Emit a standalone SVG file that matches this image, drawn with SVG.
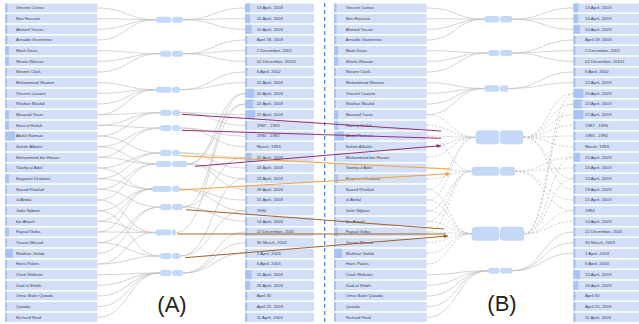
<svg xmlns="http://www.w3.org/2000/svg" width="639" height="324" viewBox="0 0 639 324">
<style>
.row{fill:#d3dff7}
.bar{fill:#a8c4f3}
.lbl{font-family:"Liberation Sans",Arial,sans-serif;font-size:4.3px;fill:#3d4454}
.pill{fill:#c4d9f8}
.c{fill:none;stroke:#c2c2c2;stroke-width:0.7}
.d{fill:none;stroke:#c2c2c2;stroke-width:0.7;stroke-dasharray:2.5 1.5}
.ar{fill:none;stroke-width:1}
.cap{font-family:"Liberation Sans",Arial,sans-serif;font-size:22px;fill:#222;text-anchor:middle}
</style>
<defs>
<marker id="mp" viewBox="0 0 10 8" refX="9" refY="4" markerWidth="5" markerHeight="4" orient="auto" markerUnits="userSpaceOnUse"><path d="M0 0L10 4L0 8z" fill="#99306f"/></marker>
<marker id="mo" viewBox="0 0 10 8" refX="9" refY="4" markerWidth="5" markerHeight="4" orient="auto" markerUnits="userSpaceOnUse"><path d="M0 0L10 4L0 8z" fill="#f5a23a"/></marker>
<marker id="mb" viewBox="0 0 10 8" refX="9" refY="4" markerWidth="5" markerHeight="4" orient="auto" markerUnits="userSpaceOnUse"><path d="M0 0L10 4L0 8z" fill="#a4622b"/></marker>
</defs>
<rect width="639" height="324" fill="#fff"/>

<g id="connectors">
<!-- A left -->
<path class="c" d="M97.5 8C127 8 127 19.7 156 19.7M97.5 18.67C127 18.67 127 19.7 156 19.7M97.5 29.33C127 29.33 127 19.7 156 19.7M97.5 40C127 40 127 19.7 156 19.7"/>
<path class="c" d="M97.5 50.67C129 50.67 129 53.7 160 53.7M97.5 61.33C129 61.33 129 53.7 160 53.7M97.5 72C129 72 129 53.7 160 53.7"/>
<path class="c" d="M97.5 82.67C127 82.67 127 89.7 156 89.7M97.5 93.33C127 93.33 127 89.7 156 89.7M97.5 104C127 104 127 89.7 156 89.7M97.5 114.67C127 114.67 127 89.7 156 89.7"/>
<path class="c" d="M97.5 114.67C129 114.67 129 112.7 160 112.7M97.5 125.33C129 125.33 129 112.7 160 112.7M97.5 136C129 136 129 112.7 160 112.7"/>
<path class="c" d="M97.5 125.33C129 125.33 129 128 160 128M97.5 146.67C129 146.67 129 128 160 128M97.5 157.33C129 157.33 129 128 160 128"/>
<path class="c" d="M97.5 136C129 136 129 153 160 153M97.5 168C129 168 129 153 160 153M97.5 178.67C129 178.67 129 153 160 153"/>
<path class="c" d="M97.5 146.67C127 146.67 127 164 156 164M97.5 157.33C127 157.33 127 164 156 164M97.5 189.33C127 189.33 127 164 156 164M97.5 200C127 200 127 164 156 164"/>
<path class="c" d="M97.5 168C125 168 125 189 152 189M97.5 178.67C125 178.67 125 189 152 189M97.5 210.67C125 210.67 125 189 152 189M97.5 221.33C125 221.33 125 189 152 189M97.5 232C125 232 125 189 152 189"/>
<path class="c" d="M97.5 189.33C129 189.33 129 207 160 207M97.5 242.67C129 242.67 129 207 160 207M97.5 253.33C129 253.33 129 207 160 207"/>
<path class="c" d="M97.5 200C126 200 126 232.5 155 232.5M97.5 221.33C126 221.33 126 232.5 155 232.5M97.5 232C126 232 126 232.5 155 232.5M97.5 264C126 264 126 232.5 155 232.5"/>
<path class="c" d="M97.5 210.67C129 210.67 129 256 160 256M97.5 242.67C129 242.67 129 256 160 256M97.5 264C129 264 129 256 160 256"/>
<path class="c" d="M97.5 274.67C129 274.67 129 273 160 273M97.5 285.33C129 285.33 129 273 160 273M97.5 296C129 296 129 273 160 273M97.5 306.67C129 306.67 129 273 160 273M97.5 317.33C129 317.33 129 273 160 273"/>
<!-- A right -->
<path class="c" d="M183 19.7C214 19.7 214 8 245 8M183 19.7C214 19.7 214 18.67 245 18.67M183 19.7C214 19.7 214 29.33 245 29.33"/>
<path class="c" d="M183 53.7C214 53.7 214 40 245 40M183 53.7C214 53.7 214 50.67 245 50.67M183 53.7C214 53.7 214 61.33 245 61.33"/>
<path class="c" d="M180 89.7C212.5 89.7 212.5 72 245 72M180 89.7C212.5 89.7 212.5 82.67 245 82.67"/>
<path class="c" d="M180 112.7C212.5 112.7 212.5 114.67 245 114.67M180 112.7C212.5 112.7 212.5 125.33 245 125.33"/>
<path class="c" d="M180 128C212.5 128 212.5 136 245 136M180 128C212.5 128 212.5 146.67 245 146.67"/>
<path class="c" d="M180 153C212.5 153 212.5 157.33 245 157.33M180 153C212.5 153 212.5 168 245 168"/>
<path class="c" d="M187 164C216 164 216 93.33 245 93.33M187 164C216 164 216 104 245 104M187 164C216 164 216 178.67 245 178.67M187 164C216 164 216 189.33 245 189.33"/>
<path class="c" d="M180 189C212.5 189 212.5 200 245 200M180 189C212.5 189 212.5 210.67 245 210.67"/>
<path class="c" d="M183 207C214 207 214 93.33 245 93.33M183 207C214 207 214 157.33 245 157.33M183 207C214 207 214 221.33 245 221.33"/>
<path class="c" d="M176 232.5C210.5 232.5 210.5 104 245 104"/>
<path class="c" d="M180 256C212.5 256 212.5 178.67 245 178.67M180 256C212.5 256 212.5 210.67 245 210.67"/>
<path class="c" d="M183 273C214 273 214 232 245 232M183 273C214 273 214 242.67 245 242.67M183 273C214 273 214 253.33 245 253.33"/>
<!-- B left -->
<path class="c" d="M427 8C455.7 8 455.7 19.2 484.3 19.2M427 18.67C455.7 18.67 455.7 19.2 484.3 19.2M427 29.33C455.7 29.33 455.7 19.2 484.3 19.2M427 40C455.7 40 455.7 19.2 484.3 19.2"/>
<path class="c" d="M427 50.67C457.7 50.67 457.7 53 488.3 53M427 61.33C457.7 61.33 457.7 53 488.3 53M427 72C457.7 72 457.7 53 488.3 53"/>
<path class="c" d="M427 82.67C455.7 82.67 455.7 88.5 484.3 88.5M427 93.33C455.7 93.33 455.7 88.5 484.3 88.5M427 104C455.7 104 455.7 88.5 484.3 88.5M427 114.67C455.7 114.67 455.7 88.5 484.3 88.5"/>
<path class="c" d="M427 274.67C457.7 274.67 457.7 270.7 488.3 270.7M427 285.33C457.7 285.33 457.7 270.7 488.3 270.7M427 296C457.7 296 457.7 270.7 488.3 270.7M427 306.67C457.7 306.67 457.7 270.7 488.3 270.7M427 317.33C457.7 317.33 457.7 270.7 488.3 270.7"/>
<path class="d" d="M427 114.67C451.3 114.67 451.3 137.3 475.7 137.3M427 125.33C451.3 125.33 451.3 137.3 475.7 137.3M427 136C451.3 136 451.3 137.3 475.7 137.3M427 146.67C451.3 146.67 451.3 137.3 475.7 137.3M427 157.33C451.3 157.33 451.3 137.3 475.7 137.3M427 189.33C451.3 189.33 451.3 137.3 475.7 137.3M427 200C451.3 200 451.3 137.3 475.7 137.3"/>
<path class="d" d="M427 136C449.3 136 449.3 171.2 471.7 171.2M427 168C449.3 168 449.3 171.2 471.7 171.2M427 178.67C449.3 178.67 449.3 171.2 471.7 171.2M427 210.67C449.3 210.67 449.3 171.2 471.7 171.2M427 221.33C449.3 221.33 449.3 171.2 471.7 171.2M427 232C449.3 232 449.3 171.2 471.7 171.2"/>
<path class="d" d="M427 189.33C449.3 189.33 449.3 233.7 471.7 233.7M427 200C449.3 200 449.3 233.7 471.7 233.7M427 210.67C449.3 210.67 449.3 233.7 471.7 233.7M427 221.33C449.3 221.33 449.3 233.7 471.7 233.7M427 232C449.3 232 449.3 233.7 471.7 233.7M427 242.67C449.3 242.67 449.3 233.7 471.7 233.7M427 253.33C449.3 253.33 449.3 233.7 471.7 233.7M427 264C449.3 264 449.3 233.7 471.7 233.7"/>
<!-- B right -->
<path class="c" d="M512.3 19.2C542.8 19.2 542.8 8 573.3 8M512.3 19.2C542.8 19.2 542.8 18.67 573.3 18.67M512.3 19.2C542.8 19.2 542.8 29.33 573.3 29.33"/>
<path class="c" d="M512.3 53C542.8 53 542.8 40 573.3 40M512.3 53C542.8 53 542.8 50.67 573.3 50.67M512.3 53C542.8 53 542.8 61.33 573.3 61.33"/>
<path class="c" d="M508.3 88.5C540.8 88.5 540.8 72 573.3 72M508.3 88.5C540.8 88.5 540.8 82.67 573.3 82.67"/>
<path class="c" d="M512.3 270.7C542.8 270.7 542.8 232 573.3 232M512.3 270.7C542.8 270.7 542.8 242.67 573.3 242.67M512.3 270.7C542.8 270.7 542.8 253.33 573.3 253.33"/>
<path class="d" d="M523.3 137.3C548.3 137.3 548.3 93.33 573.3 93.33M523.3 137.3C548.3 137.3 548.3 104 573.3 104M523.3 137.3C548.3 137.3 548.3 114.67 573.3 114.67M523.3 137.3C548.3 137.3 548.3 125.33 573.3 125.33M523.3 137.3C548.3 137.3 548.3 136 573.3 136M523.3 137.3C548.3 137.3 548.3 146.67 573.3 146.67M523.3 137.3C548.3 137.3 548.3 178.67 573.3 178.67M523.3 137.3C548.3 137.3 548.3 189.33 573.3 189.33"/>
<path class="d" d="M515 171.2C544.2 171.2 544.2 157.33 573.3 157.33M515 171.2C544.2 171.2 544.2 168 573.3 168M515 171.2C544.2 171.2 544.2 200 573.3 200M515 171.2C544.2 171.2 544.2 210.67 573.3 210.67"/>
<path class="d" d="M524 233.7C548.7 233.7 548.7 93.33 573.3 93.33M524 233.7C548.7 233.7 548.7 104 573.3 104M524 233.7C548.7 233.7 548.7 157.33 573.3 157.33M524 233.7C548.7 233.7 548.7 178.67 573.3 178.67M524 233.7C548.7 233.7 548.7 210.67 573.3 210.67M524 233.7C548.7 233.7 548.7 221.33 573.3 221.33"/>
</g>

<line id="divider" x1="324.7" y1="3" x2="324.7" y2="324" stroke="#4a78ee" stroke-width="1.2" stroke-dasharray="4 3"/>

<!-- A names -->
<g id="a-name-0" transform="translate(5,3.4)"><rect class="row" width="92.5" height="9.2" rx="1"/><rect class="bar" width="2.5" height="9.2" rx="0.8"/><text class="lbl" x="11" y="6.1">Vincent Cortez</text></g>
<g id="a-name-1" transform="translate(5,14.07)"><rect class="row" width="92.5" height="9.2" rx="1"/><rect class="bar" width="2.5" height="9.2" rx="0.8"/><text class="lbl" x="11" y="6.1">Ben Hassine</text></g>
<g id="a-name-2" transform="translate(5,24.73)"><rect class="row" width="92.5" height="9.2" rx="1"/><rect class="bar" width="2.5" height="9.2" rx="0.8"/><text class="lbl" x="11" y="6.1">Ahmed Yassin</text></g>
<g id="a-name-3" transform="translate(5,35.4)"><rect class="row" width="92.5" height="9.2" rx="1"/><rect class="bar" width="2.5" height="9.2" rx="0.8"/><text class="lbl" x="11" y="6.1">Arnaldo Guetierrez</text></g>
<g id="a-name-4" transform="translate(5,46.07)"><rect class="row" width="92.5" height="9.2" rx="1"/><rect class="bar" width="4" height="9.2" rx="0.8"/><text class="lbl" x="11" y="6.1">Mark Davis</text></g>
<g id="a-name-5" transform="translate(5,56.73)"><rect class="row" width="92.5" height="9.2" rx="1"/><rect class="bar" width="4" height="9.2" rx="0.8"/><text class="lbl" x="11" y="6.1">Shiela Watson</text></g>
<g id="a-name-6" transform="translate(5,67.4)"><rect class="row" width="92.5" height="9.2" rx="1"/><rect class="bar" width="2" height="9.2" rx="0.8"/><text class="lbl" x="11" y="6.1">Steven Clark</text></g>
<g id="a-name-7" transform="translate(5,78.07)"><rect class="row" width="92.5" height="9.2" rx="1"/><rect class="bar" width="2" height="9.2" rx="0.8"/><text class="lbl" x="11" y="6.1">Muhammad Shamzi</text></g>
<g id="a-name-8" transform="translate(5,88.73)"><rect class="row" width="92.5" height="9.2" rx="1"/><rect class="bar" width="2" height="9.2" rx="0.8"/><text class="lbl" x="11" y="6.1">Vincent Lozario</text></g>
<g id="a-name-9" transform="translate(5,99.4)"><rect class="row" width="92.5" height="9.2" rx="1"/><rect class="bar" width="2" height="9.2" rx="0.8"/><text class="lbl" x="11" y="6.1">Khalfan Maulid</text></g>
<g id="a-name-10" transform="translate(5,110.07)"><rect class="row" width="92.5" height="9.2" rx="1"/><rect class="bar" width="4" height="9.2" rx="0.8"/><text class="lbl" x="11" y="6.1">Masood Yaser</text></g>
<g id="a-name-11" transform="translate(5,120.73)"><rect class="row" width="92.5" height="9.2" rx="1"/><rect class="bar" width="4" height="9.2" rx="0.8"/><text class="lbl" x="11" y="6.1">Hani al Hallak</text></g>
<g id="a-name-12" transform="translate(5,131.4)"><rect class="row" width="92.5" height="9.2" rx="1"/><rect class="bar" width="10" height="9.2" rx="0.8"/><text class="lbl" x="11" y="6.1">Abdul Ramazi</text></g>
<g id="a-name-13" transform="translate(5,142.07)"><rect class="row" width="92.5" height="9.2" rx="1"/><rect class="bar" width="2" height="9.2" rx="0.8"/><text class="lbl" x="11" y="6.1">Sahim Albakri</text></g>
<g id="a-name-14" transform="translate(5,152.73)"><rect class="row" width="92.5" height="9.2" rx="1"/><rect class="bar" width="2" height="9.2" rx="0.8"/><text class="lbl" x="11" y="6.1">Mohammed bin Harazi</text></g>
<g id="a-name-15" transform="translate(5,163.4)"><rect class="row" width="92.5" height="9.2" rx="1"/><rect class="bar" width="2" height="9.2" rx="0.8"/><text class="lbl" x="11" y="6.1">Tawfiq al Adel</text></g>
<g id="a-name-16" transform="translate(5,174.07)"><rect class="row" width="92.5" height="9.2" rx="1"/><rect class="bar" width="4" height="9.2" rx="0.8"/><text class="lbl" x="11" y="6.1">Bagwant Dhaliwal</text></g>
<g id="a-name-17" transform="translate(5,184.73)"><rect class="row" width="92.5" height="9.2" rx="1"/><rect class="bar" width="2" height="9.2" rx="0.8"/><text class="lbl" x="11" y="6.1">Saeed Khallad</text></g>
<g id="a-name-18" transform="translate(5,195.4)"><rect class="row" width="92.5" height="9.2" rx="1"/><rect class="bar" width="2" height="9.2" rx="0.8"/><text class="lbl" x="11" y="6.1">al Ahdal</text></g>
<g id="a-name-19" transform="translate(5,206.07)"><rect class="row" width="92.5" height="9.2" rx="1"/><rect class="bar" width="2" height="9.2" rx="0.8"/><text class="lbl" x="11" y="6.1">Jotte Nijboer</text></g>
<g id="a-name-20" transform="translate(5,216.73)"><rect class="row" width="92.5" height="9.2" rx="1"/><rect class="bar" width="2" height="9.2" rx="0.8"/><text class="lbl" x="11" y="6.1">bin Attash</text></g>
<g id="a-name-21" transform="translate(5,227.4)"><rect class="row" width="92.5" height="9.2" rx="1"/><rect class="bar" width="4" height="9.2" rx="0.8"/><text class="lbl" x="11" y="6.1">Faysal Goba</text></g>
<g id="a-name-22" transform="translate(5,238.07)"><rect class="row" width="92.5" height="9.2" rx="1"/><rect class="bar" width="2" height="9.2" rx="0.8"/><text class="lbl" x="11" y="6.1">Yasein Mosed</text></g>
<g id="a-name-23" transform="translate(5,248.73)"><rect class="row" width="92.5" height="9.2" rx="1"/><rect class="bar" width="8" height="9.2" rx="0.8"/><text class="lbl" x="11" y="6.1">Mukhtar Galab</text></g>
<g id="a-name-24" transform="translate(5,259.4)"><rect class="row" width="92.5" height="9.2" rx="1"/><rect class="bar" width="2" height="9.2" rx="0.8"/><text class="lbl" x="11" y="6.1">Hans Pakes</text></g>
<g id="a-name-25" transform="translate(5,270.07)"><rect class="row" width="92.5" height="9.2" rx="1"/><rect class="bar" width="2" height="9.2" rx="0.8"/><text class="lbl" x="11" y="6.1">Clark Webster</text></g>
<g id="a-name-26" transform="translate(5,280.73)"><rect class="row" width="92.5" height="9.2" rx="1"/><rect class="bar" width="2" height="9.2" rx="0.8"/><text class="lbl" x="11" y="6.1">Zaid al Shibh</text></g>
<g id="a-name-27" transform="translate(5,291.4)"><rect class="row" width="92.5" height="9.2" rx="1"/><rect class="bar" width="2" height="9.2" rx="0.8"/><text class="lbl" x="11" y="6.1">Omar Bakri Qatada</text></g>
<g id="a-name-28" transform="translate(5,302.07)"><rect class="row" width="92.5" height="9.2" rx="1"/><rect class="bar" width="2" height="9.2" rx="0.8"/><text class="lbl" x="11" y="6.1">Qatada</text></g>
<g id="a-name-29" transform="translate(5,312.73)"><rect class="row" width="92.5" height="9.2" rx="1"/><rect class="bar" width="2" height="9.2" rx="0.8"/><text class="lbl" x="11" y="6.1">Richard Reid</text></g>

<!-- A dates -->
<g id="a-date-0" transform="translate(245,3.4)"><rect class="row" width="69" height="9.2" rx="1"/><rect class="bar" width="5" height="9.2" rx="0.8"/><text class="lbl" x="11.7" y="6.1">13 April, 2003</text></g>
<g id="a-date-1" transform="translate(245,14.07)"><rect class="row" width="69" height="9.2" rx="1"/><rect class="bar" width="5" height="9.2" rx="0.8"/><text class="lbl" x="11.7" y="6.1">16 April, 2003</text></g>
<g id="a-date-2" transform="translate(245,24.73)"><rect class="row" width="69" height="9.2" rx="1"/><rect class="bar" width="6.7" height="9.2" rx="0.8"/><text class="lbl" x="11.7" y="6.1">10 April, 2003</text></g>
<g id="a-date-3" transform="translate(245,35.4)"><rect class="row" width="69" height="9.2" rx="1"/><rect class="bar" width="2.3" height="9.2" rx="0.8"/><text class="lbl" x="11.7" y="6.1">April 18, 2003</text></g>
<g id="a-date-4" transform="translate(245,46.07)"><rect class="row" width="69" height="9.2" rx="1"/><rect class="bar" width="2.3" height="9.2" rx="0.8"/><text class="lbl" x="11.7" y="6.1">2 December, 2001</text></g>
<g id="a-date-5" transform="translate(245,56.73)"><rect class="row" width="69" height="9.2" rx="1"/><rect class="bar" width="2.3" height="9.2" rx="0.8"/><text class="lbl" x="11.7" y="6.1">02 December, 20011</text></g>
<g id="a-date-6" transform="translate(245,67.4)"><rect class="row" width="69" height="9.2" rx="1"/><rect class="bar" width="2.3" height="9.2" rx="0.8"/><text class="lbl" x="11.7" y="6.1">6 April, 2002</text></g>
<g id="a-date-7" transform="translate(245,78.07)"><rect class="row" width="69" height="9.2" rx="1"/><rect class="bar" width="2.3" height="9.2" rx="0.8"/><text class="lbl" x="11.7" y="6.1">12 April, 2003</text></g>
<g id="a-date-8" transform="translate(245,88.73)"><rect class="row" width="69" height="9.2" rx="1"/><rect class="bar" width="9.3" height="9.2" rx="0.8"/><text class="lbl" x="11.7" y="6.1">20 April, 2003</text></g>
<g id="a-date-9" transform="translate(245,99.4)"><rect class="row" width="69" height="9.2" rx="1"/><rect class="bar" width="8.3" height="9.2" rx="0.8"/><text class="lbl" x="11.7" y="6.1">22 April, 2003</text></g>
<g id="a-date-10" transform="translate(245,110.07)"><rect class="row" width="69" height="9.2" rx="1"/><rect class="bar" width="10" height="9.2" rx="0.8"/><text class="lbl" x="11.7" y="6.1">27 April, 2003</text></g>
<g id="a-date-11" transform="translate(245,120.73)"><rect class="row" width="69" height="9.2" rx="1"/><rect class="bar" width="2.3" height="9.2" rx="0.8"/><text class="lbl" x="11.7" y="6.1">1987 - 1993</text></g>
<g id="a-date-12" transform="translate(245,131.4)"><rect class="row" width="69" height="9.2" rx="1"/><rect class="bar" width="2.3" height="9.2" rx="0.8"/><text class="lbl" x="11.7" y="6.1">1990 - 1992</text></g>
<g id="a-date-13" transform="translate(245,142.07)"><rect class="row" width="69" height="9.2" rx="1"/><rect class="bar" width="2.3" height="9.2" rx="0.8"/><text class="lbl" x="11.7" y="6.1">March, 1993</text></g>
<g id="a-date-14" transform="translate(245,152.73)"><rect class="row" width="69" height="9.2" rx="1"/><rect class="bar" width="6.7" height="9.2" rx="0.8"/><text class="lbl" x="11.7" y="6.1">25 April, 2003</text></g>
<g id="a-date-15" transform="translate(245,163.4)"><rect class="row" width="69" height="9.2" rx="1"/><rect class="bar" width="2.3" height="9.2" rx="0.8"/><text class="lbl" x="11.7" y="6.1">24 April, 2003</text></g>
<g id="a-date-16" transform="translate(245,174.07)"><rect class="row" width="69" height="9.2" rx="1"/><rect class="bar" width="2.3" height="9.2" rx="0.8"/><text class="lbl" x="11.7" y="6.1">23 April, 2003</text></g>
<g id="a-date-17" transform="translate(245,184.73)"><rect class="row" width="69" height="9.2" rx="1"/><rect class="bar" width="2.3" height="9.2" rx="0.8"/><text class="lbl" x="11.7" y="6.1">29 April, 2003</text></g>
<g id="a-date-18" transform="translate(245,195.4)"><rect class="row" width="69" height="9.2" rx="1"/><rect class="bar" width="2.3" height="9.2" rx="0.8"/><text class="lbl" x="11.7" y="6.1">21 April, 2003</text></g>
<g id="a-date-19" transform="translate(245,206.07)"><rect class="row" width="69" height="9.2" rx="1"/><rect class="bar" width="2.3" height="9.2" rx="0.8"/><text class="lbl" x="11.7" y="6.1">1994</text></g>
<g id="a-date-20" transform="translate(245,216.73)"><rect class="row" width="69" height="9.2" rx="1"/><rect class="bar" width="2.3" height="9.2" rx="0.8"/><text class="lbl" x="11.7" y="6.1">14 April, 2003</text></g>
<g id="a-date-21" transform="translate(245,227.4)"><rect class="row" width="69" height="9.2" rx="1"/><rect class="bar" width="2.3" height="9.2" rx="0.8"/><text class="lbl" x="11.7" y="6.1">22 December, 2001</text></g>
<g id="a-date-22" transform="translate(245,238.07)"><rect class="row" width="69" height="9.2" rx="1"/><rect class="bar" width="2.3" height="9.2" rx="0.8"/><text class="lbl" x="11.7" y="6.1">30 March, 2003</text></g>
<g id="a-date-23" transform="translate(245,248.73)"><rect class="row" width="69" height="9.2" rx="1"/><rect class="bar" width="2.3" height="9.2" rx="0.8"/><text class="lbl" x="11.7" y="6.1">1 April, 2003</text></g>
<g id="a-date-24" transform="translate(245,259.4)"><rect class="row" width="69" height="9.2" rx="1"/><rect class="bar" width="2.3" height="9.2" rx="0.8"/><text class="lbl" x="11.7" y="6.1">6 April, 2003</text></g>
<g id="a-date-25" transform="translate(245,270.07)"><rect class="row" width="69" height="9.2" rx="1"/><rect class="bar" width="6.7" height="9.2" rx="0.8"/><text class="lbl" x="11.7" y="6.1">15 April, 2003</text></g>
<g id="a-date-26" transform="translate(245,280.73)"><rect class="row" width="69" height="9.2" rx="1"/><rect class="bar" width="5" height="9.2" rx="0.8"/><text class="lbl" x="11.7" y="6.1">26 April, 2003</text></g>
<g id="a-date-27" transform="translate(245,291.4)"><rect class="row" width="69" height="9.2" rx="1"/><rect class="bar" width="2.3" height="9.2" rx="0.8"/><text class="lbl" x="11.7" y="6.1">April 30</text></g>
<g id="a-date-28" transform="translate(245,302.07)"><rect class="row" width="69" height="9.2" rx="1"/><rect class="bar" width="2.3" height="9.2" rx="0.8"/><text class="lbl" x="11.7" y="6.1">April 25, 2003</text></g>
<g id="a-date-29" transform="translate(245,312.73)"><rect class="row" width="69" height="9.2" rx="1"/><rect class="bar" width="2.3" height="9.2" rx="0.8"/><text class="lbl" x="11.7" y="6.1">11 April, 2003</text></g>

<!-- A pills -->
<g id="a-pill-1"><rect class="pill" x="156" y="16.7" width="15.3" height="6" rx="2.5"/><rect class="pill" x="172" y="16.7" width="11" height="6" rx="2.5"/></g>
<g id="a-pill-2"><rect class="pill" x="160" y="50.7" width="11.3" height="6" rx="2.5"/><rect class="pill" x="172" y="50.7" width="11" height="6" rx="2.5"/></g>
<g id="a-pill-3"><rect class="pill" x="156" y="86.7" width="15.3" height="6" rx="2.5"/><rect class="pill" x="172" y="86.7" width="8" height="6" rx="2.5"/></g>
<g id="a-pill-4"><rect class="pill" x="160" y="109.7" width="11.3" height="6" rx="2.5"/><rect class="pill" x="172" y="109.7" width="8" height="6" rx="2.5"/></g>
<g id="a-pill-5"><rect class="pill" x="160" y="125" width="11.3" height="6" rx="2.5"/><rect class="pill" x="172" y="125" width="8" height="6" rx="2.5"/></g>
<g id="a-pill-6"><rect class="pill" x="160" y="150" width="11.3" height="6" rx="2.5"/><rect class="pill" x="172" y="150" width="8" height="6" rx="2.5"/></g>
<g id="a-pill-7"><rect class="pill" x="156" y="161" width="15.3" height="6" rx="2.5"/><rect class="pill" x="172" y="161" width="15" height="6" rx="2.5"/></g>
<g id="a-pill-8"><rect class="pill" x="152" y="186" width="19.3" height="6" rx="2.5"/><rect class="pill" x="172" y="186" width="8" height="6" rx="2.5"/></g>
<g id="a-pill-9"><rect class="pill" x="160" y="204" width="11.3" height="6" rx="2.5"/><rect class="pill" x="172" y="204" width="11" height="6" rx="2.5"/></g>
<g id="a-pill-10"><rect class="pill" x="155" y="229.5" width="16.3" height="6" rx="2.5"/><rect class="pill" x="172" y="229.5" width="4" height="6" rx="1.8"/></g>
<g id="a-pill-11"><rect class="pill" x="160" y="253" width="11.3" height="6" rx="2.5"/><rect class="pill" x="172" y="253" width="8" height="6" rx="2.5"/></g>
<g id="a-pill-12"><rect class="pill" x="160" y="270" width="11.3" height="6" rx="2.5"/><rect class="pill" x="172" y="270" width="11" height="6" rx="2.5"/></g>

<!-- B names -->
<g id="b-name-0" transform="translate(334,3.4)"><rect class="row" width="92.7" height="9.2" rx="1"/><rect class="bar" width="2.5" height="9.2" rx="0.8"/><text class="lbl" x="11.7" y="6.1">Vincent Cortez</text></g>
<g id="b-name-1" transform="translate(334,14.07)"><rect class="row" width="92.7" height="9.2" rx="1"/><rect class="bar" width="2.5" height="9.2" rx="0.8"/><text class="lbl" x="11.7" y="6.1">Ben Hassine</text></g>
<g id="b-name-2" transform="translate(334,24.73)"><rect class="row" width="92.7" height="9.2" rx="1"/><rect class="bar" width="2.5" height="9.2" rx="0.8"/><text class="lbl" x="11.7" y="6.1">Ahmed Yassin</text></g>
<g id="b-name-3" transform="translate(334,35.4)"><rect class="row" width="92.7" height="9.2" rx="1"/><rect class="bar" width="2.5" height="9.2" rx="0.8"/><text class="lbl" x="11.7" y="6.1">Arnaldo Guetierrez</text></g>
<g id="b-name-4" transform="translate(334,46.07)"><rect class="row" width="92.7" height="9.2" rx="1"/><rect class="bar" width="4" height="9.2" rx="0.8"/><text class="lbl" x="11.7" y="6.1">Mark Davis</text></g>
<g id="b-name-5" transform="translate(334,56.73)"><rect class="row" width="92.7" height="9.2" rx="1"/><rect class="bar" width="4" height="9.2" rx="0.8"/><text class="lbl" x="11.7" y="6.1">Shiela Watson</text></g>
<g id="b-name-6" transform="translate(334,67.4)"><rect class="row" width="92.7" height="9.2" rx="1"/><rect class="bar" width="2" height="9.2" rx="0.8"/><text class="lbl" x="11.7" y="6.1">Steven Clark</text></g>
<g id="b-name-7" transform="translate(334,78.07)"><rect class="row" width="92.7" height="9.2" rx="1"/><rect class="bar" width="2" height="9.2" rx="0.8"/><text class="lbl" x="11.7" y="6.1">Muhammad Shamzi</text></g>
<g id="b-name-8" transform="translate(334,88.73)"><rect class="row" width="92.7" height="9.2" rx="1"/><rect class="bar" width="2" height="9.2" rx="0.8"/><text class="lbl" x="11.7" y="6.1">Vincent Lozario</text></g>
<g id="b-name-9" transform="translate(334,99.4)"><rect class="row" width="92.7" height="9.2" rx="1"/><rect class="bar" width="2" height="9.2" rx="0.8"/><text class="lbl" x="11.7" y="6.1">Khalfan Maulid</text></g>
<g id="b-name-10" transform="translate(334,110.07)"><rect class="row" width="92.7" height="9.2" rx="1"/><rect class="bar" width="4" height="9.2" rx="0.8"/><text class="lbl" x="11.7" y="6.1">Masood Yaser</text></g>
<g id="b-name-11" transform="translate(334,120.73)"><rect class="row" width="92.7" height="9.2" rx="1"/><rect class="bar" width="4" height="9.2" rx="0.8"/><text class="lbl" x="11.7" y="6.1">Hani al Hallak</text></g>
<g id="b-name-12" transform="translate(334,131.4)"><rect class="row" width="92.7" height="9.2" rx="1"/><rect class="bar" width="10" height="9.2" rx="0.8"/><text class="lbl" x="11.7" y="6.1">Abdul Ramazi</text></g>
<g id="b-name-13" transform="translate(334,142.07)"><rect class="row" width="92.7" height="9.2" rx="1"/><rect class="bar" width="2" height="9.2" rx="0.8"/><text class="lbl" x="11.7" y="6.1">Sahim Albakri</text></g>
<g id="b-name-14" transform="translate(334,152.73)"><rect class="row" width="92.7" height="9.2" rx="1"/><rect class="bar" width="2" height="9.2" rx="0.8"/><text class="lbl" x="11.7" y="6.1">Muhammed bin Harazi</text></g>
<g id="b-name-15" transform="translate(334,163.4)"><rect class="row" width="92.7" height="9.2" rx="1"/><rect class="bar" width="2" height="9.2" rx="0.8"/><text class="lbl" x="11.7" y="6.1">Tawfiq al Adel</text></g>
<g id="b-name-16" transform="translate(334,174.07)"><rect class="row" width="92.7" height="9.2" rx="1"/><rect class="bar" width="4" height="9.2" rx="0.8"/><text class="lbl" x="11.7" y="6.1">Bagwant Dhaliwal</text></g>
<g id="b-name-17" transform="translate(334,184.73)"><rect class="row" width="92.7" height="9.2" rx="1"/><rect class="bar" width="2" height="9.2" rx="0.8"/><text class="lbl" x="11.7" y="6.1">Saeed Khallad</text></g>
<g id="b-name-18" transform="translate(334,195.4)"><rect class="row" width="92.7" height="9.2" rx="1"/><rect class="bar" width="2" height="9.2" rx="0.8"/><text class="lbl" x="11.7" y="6.1">al Ahdal</text></g>
<g id="b-name-19" transform="translate(334,206.07)"><rect class="row" width="92.7" height="9.2" rx="1"/><rect class="bar" width="2" height="9.2" rx="0.8"/><text class="lbl" x="11.7" y="6.1">Jotte Nijboer</text></g>
<g id="b-name-20" transform="translate(334,216.73)"><rect class="row" width="92.7" height="9.2" rx="1"/><rect class="bar" width="2" height="9.2" rx="0.8"/><text class="lbl" x="11.7" y="6.1">bin Attash</text></g>
<g id="b-name-21" transform="translate(334,227.4)"><rect class="row" width="92.7" height="9.2" rx="1"/><rect class="bar" width="4" height="9.2" rx="0.8"/><text class="lbl" x="11.7" y="6.1">Faysal Goba</text></g>
<g id="b-name-22" transform="translate(334,238.07)"><rect class="row" width="92.7" height="9.2" rx="1"/><rect class="bar" width="2" height="9.2" rx="0.8"/><text class="lbl" x="11.7" y="6.1">Yasein Mosed</text></g>
<g id="b-name-23" transform="translate(334,248.73)"><rect class="row" width="92.7" height="9.2" rx="1"/><rect class="bar" width="8" height="9.2" rx="0.8"/><text class="lbl" x="11.7" y="6.1">Mukhtar Galab</text></g>
<g id="b-name-24" transform="translate(334,259.4)"><rect class="row" width="92.7" height="9.2" rx="1"/><rect class="bar" width="2" height="9.2" rx="0.8"/><text class="lbl" x="11.7" y="6.1">Hans Pakes</text></g>
<g id="b-name-25" transform="translate(334,270.07)"><rect class="row" width="92.7" height="9.2" rx="1"/><rect class="bar" width="2" height="9.2" rx="0.8"/><text class="lbl" x="11.7" y="6.1">Clark Webster</text></g>
<g id="b-name-26" transform="translate(334,280.73)"><rect class="row" width="92.7" height="9.2" rx="1"/><rect class="bar" width="2" height="9.2" rx="0.8"/><text class="lbl" x="11.7" y="6.1">Zaid al Shibh</text></g>
<g id="b-name-27" transform="translate(334,291.4)"><rect class="row" width="92.7" height="9.2" rx="1"/><rect class="bar" width="2" height="9.2" rx="0.8"/><text class="lbl" x="11.7" y="6.1">Omar Bakri Qatada</text></g>
<g id="b-name-28" transform="translate(334,302.07)"><rect class="row" width="92.7" height="9.2" rx="1"/><rect class="bar" width="2" height="9.2" rx="0.8"/><text class="lbl" x="11.7" y="6.1">Qatada</text></g>
<g id="b-name-29" transform="translate(334,312.73)"><rect class="row" width="92.7" height="9.2" rx="1"/><rect class="bar" width="2" height="9.2" rx="0.8"/><text class="lbl" x="11.7" y="6.1">Richard Reid</text></g>

<!-- B dates -->
<g id="b-date-0" transform="translate(573.3,3.4)"><rect class="row" width="69" height="9.2" rx="1"/><rect class="bar" width="5" height="9.2" rx="0.8"/><text class="lbl" x="11.7" y="6.1">13 April, 2003</text></g>
<g id="b-date-1" transform="translate(573.3,14.07)"><rect class="row" width="69" height="9.2" rx="1"/><rect class="bar" width="5" height="9.2" rx="0.8"/><text class="lbl" x="11.7" y="6.1">16 April, 2003</text></g>
<g id="b-date-2" transform="translate(573.3,24.73)"><rect class="row" width="69" height="9.2" rx="1"/><rect class="bar" width="6.7" height="9.2" rx="0.8"/><text class="lbl" x="11.7" y="6.1">10 April, 2003</text></g>
<g id="b-date-3" transform="translate(573.3,35.4)"><rect class="row" width="69" height="9.2" rx="1"/><rect class="bar" width="2.3" height="9.2" rx="0.8"/><text class="lbl" x="11.7" y="6.1">April 18, 2003</text></g>
<g id="b-date-4" transform="translate(573.3,46.07)"><rect class="row" width="69" height="9.2" rx="1"/><rect class="bar" width="2.3" height="9.2" rx="0.8"/><text class="lbl" x="11.7" y="6.1">2 December, 2001</text></g>
<g id="b-date-5" transform="translate(573.3,56.73)"><rect class="row" width="69" height="9.2" rx="1"/><rect class="bar" width="2.3" height="9.2" rx="0.8"/><text class="lbl" x="11.7" y="6.1">02 December, 20011</text></g>
<g id="b-date-6" transform="translate(573.3,67.4)"><rect class="row" width="69" height="9.2" rx="1"/><rect class="bar" width="2.3" height="9.2" rx="0.8"/><text class="lbl" x="11.7" y="6.1">6 April, 2002</text></g>
<g id="b-date-7" transform="translate(573.3,78.07)"><rect class="row" width="69" height="9.2" rx="1"/><rect class="bar" width="2.3" height="9.2" rx="0.8"/><text class="lbl" x="11.7" y="6.1">12 April, 2003</text></g>
<g id="b-date-8" transform="translate(573.3,88.73)"><rect class="row" width="69" height="9.2" rx="1"/><rect class="bar" width="10" height="9.2" rx="0.8"/><text class="lbl" x="11.7" y="6.1">20 April, 2003</text></g>
<g id="b-date-9" transform="translate(573.3,99.4)"><rect class="row" width="69" height="9.2" rx="1"/><rect class="bar" width="8.3" height="9.2" rx="0.8"/><text class="lbl" x="11.7" y="6.1">22 April, 2003</text></g>
<g id="b-date-10" transform="translate(573.3,110.07)"><rect class="row" width="69" height="9.2" rx="1"/><rect class="bar" width="10" height="9.2" rx="0.8"/><text class="lbl" x="11.7" y="6.1">27 April, 2003</text></g>
<g id="b-date-11" transform="translate(573.3,120.73)"><rect class="row" width="69" height="9.2" rx="1"/><rect class="bar" width="2.3" height="9.2" rx="0.8"/><text class="lbl" x="11.7" y="6.1">1987 - 1993</text></g>
<g id="b-date-12" transform="translate(573.3,131.4)"><rect class="row" width="69" height="9.2" rx="1"/><rect class="bar" width="2.3" height="9.2" rx="0.8"/><text class="lbl" x="11.7" y="6.1">1990 - 1992</text></g>
<g id="b-date-13" transform="translate(573.3,142.07)"><rect class="row" width="69" height="9.2" rx="1"/><rect class="bar" width="2.3" height="9.2" rx="0.8"/><text class="lbl" x="11.7" y="6.1">March, 1993</text></g>
<g id="b-date-14" transform="translate(573.3,152.73)"><rect class="row" width="69" height="9.2" rx="1"/><rect class="bar" width="6.7" height="9.2" rx="0.8"/><text class="lbl" x="11.7" y="6.1">25 April, 2003</text></g>
<g id="b-date-15" transform="translate(573.3,163.4)"><rect class="row" width="69" height="9.2" rx="1"/><rect class="bar" width="2.3" height="9.2" rx="0.8"/><text class="lbl" x="11.7" y="6.1">24 April, 2003</text></g>
<g id="b-date-16" transform="translate(573.3,174.07)"><rect class="row" width="69" height="9.2" rx="1"/><rect class="bar" width="2.3" height="9.2" rx="0.8"/><text class="lbl" x="11.7" y="6.1">23 April, 2003</text></g>
<g id="b-date-17" transform="translate(573.3,184.73)"><rect class="row" width="69" height="9.2" rx="1"/><rect class="bar" width="2.3" height="9.2" rx="0.8"/><text class="lbl" x="11.7" y="6.1">29 April, 2003</text></g>
<g id="b-date-18" transform="translate(573.3,195.4)"><rect class="row" width="69" height="9.2" rx="1"/><rect class="bar" width="2.3" height="9.2" rx="0.8"/><text class="lbl" x="11.7" y="6.1">21 April, 2003</text></g>
<g id="b-date-19" transform="translate(573.3,206.07)"><rect class="row" width="69" height="9.2" rx="1"/><rect class="bar" width="2.3" height="9.2" rx="0.8"/><text class="lbl" x="11.7" y="6.1">1994</text></g>
<g id="b-date-20" transform="translate(573.3,216.73)"><rect class="row" width="69" height="9.2" rx="1"/><rect class="bar" width="2.3" height="9.2" rx="0.8"/><text class="lbl" x="11.7" y="6.1">14 April, 2003</text></g>
<g id="b-date-21" transform="translate(573.3,227.4)"><rect class="row" width="69" height="9.2" rx="1"/><rect class="bar" width="2.3" height="9.2" rx="0.8"/><text class="lbl" x="11.7" y="6.1">22 December, 2001</text></g>
<g id="b-date-22" transform="translate(573.3,238.07)"><rect class="row" width="69" height="9.2" rx="1"/><rect class="bar" width="2.3" height="9.2" rx="0.8"/><text class="lbl" x="11.7" y="6.1">30 March, 2003</text></g>
<g id="b-date-23" transform="translate(573.3,248.73)"><rect class="row" width="69" height="9.2" rx="1"/><rect class="bar" width="2.3" height="9.2" rx="0.8"/><text class="lbl" x="11.7" y="6.1">1 April, 2003</text></g>
<g id="b-date-24" transform="translate(573.3,259.4)"><rect class="row" width="69" height="9.2" rx="1"/><rect class="bar" width="2.3" height="9.2" rx="0.8"/><text class="lbl" x="11.7" y="6.1">6 April, 2003</text></g>
<g id="b-date-25" transform="translate(573.3,270.07)"><rect class="row" width="69" height="9.2" rx="1"/><rect class="bar" width="6.7" height="9.2" rx="0.8"/><text class="lbl" x="11.7" y="6.1">15 April, 2003</text></g>
<g id="b-date-26" transform="translate(573.3,280.73)"><rect class="row" width="69" height="9.2" rx="1"/><rect class="bar" width="5" height="9.2" rx="0.8"/><text class="lbl" x="11.7" y="6.1">26 April, 2003</text></g>
<g id="b-date-27" transform="translate(573.3,291.4)"><rect class="row" width="69" height="9.2" rx="1"/><rect class="bar" width="2.3" height="9.2" rx="0.8"/><text class="lbl" x="11.7" y="6.1">April 30</text></g>
<g id="b-date-28" transform="translate(573.3,302.07)"><rect class="row" width="69" height="9.2" rx="1"/><rect class="bar" width="2.3" height="9.2" rx="0.8"/><text class="lbl" x="11.7" y="6.1">April 25, 2003</text></g>
<g id="b-date-29" transform="translate(573.3,312.73)"><rect class="row" width="69" height="9.2" rx="1"/><rect class="bar" width="2.3" height="9.2" rx="0.8"/><text class="lbl" x="11.7" y="6.1">11 April, 2003</text></g>

<!-- B pills -->
<g id="b-pill-1"><rect class="pill" x="484.3" y="16" width="15" height="6.4" rx="2.6"/><rect class="pill" x="500" y="16" width="12.3" height="6.4" rx="2.6"/></g>
<g id="b-pill-2"><rect class="pill" x="488.3" y="50" width="11" height="6" rx="2.5"/><rect class="pill" x="500" y="50" width="12.3" height="6" rx="2.5"/></g>
<g id="b-pill-3"><rect class="pill" x="484.3" y="85.3" width="15" height="6.4" rx="2.6"/><rect class="pill" x="500" y="85.3" width="8.3" height="6.4" rx="2.6"/></g>
<g id="b-pill-4"><rect class="pill" x="475.7" y="130.3" width="23.6" height="14" rx="3.5"/><rect class="pill" x="500" y="130.3" width="23.3" height="14" rx="3.5"/></g>
<g id="b-pill-5"><rect class="pill" x="471.7" y="166.7" width="27.6" height="9" rx="3"/><rect class="pill" x="500" y="166.7" width="15" height="9" rx="3"/></g>
<g id="b-pill-6"><rect class="pill" x="471.7" y="226.7" width="27.6" height="14" rx="3.5"/><rect class="pill" x="500" y="226.7" width="24" height="14" rx="3.5"/></g>
<g id="b-pill-7"><rect class="pill" x="488.3" y="267.7" width="11" height="6" rx="2.5"/><rect class="pill" x="500" y="267.7" width="12.3" height="6" rx="2.5"/></g>

<g id="links-a-to-b">
<path class="ar" stroke="#99306f" marker-end="url(#mp)" d="M182 114.3L441 131M182 130.3L441 138.3M195 166.3L441 145.7"/>
<path class="ar" stroke="#f5a23a" marker-end="url(#mo)" d="M180 155.7L450 169M180 190L450 173.7"/>
<path class="ar" stroke="#a4622b" marker-end="url(#mb)" d="M186 209.7L444 229M177 234L446 234M185 257.7L448 236"/>
</g>

<text class="cap" x="172" y="311.5">(A)</text>
<text class="cap" x="502" y="310.5">(B)</text>
</svg>
